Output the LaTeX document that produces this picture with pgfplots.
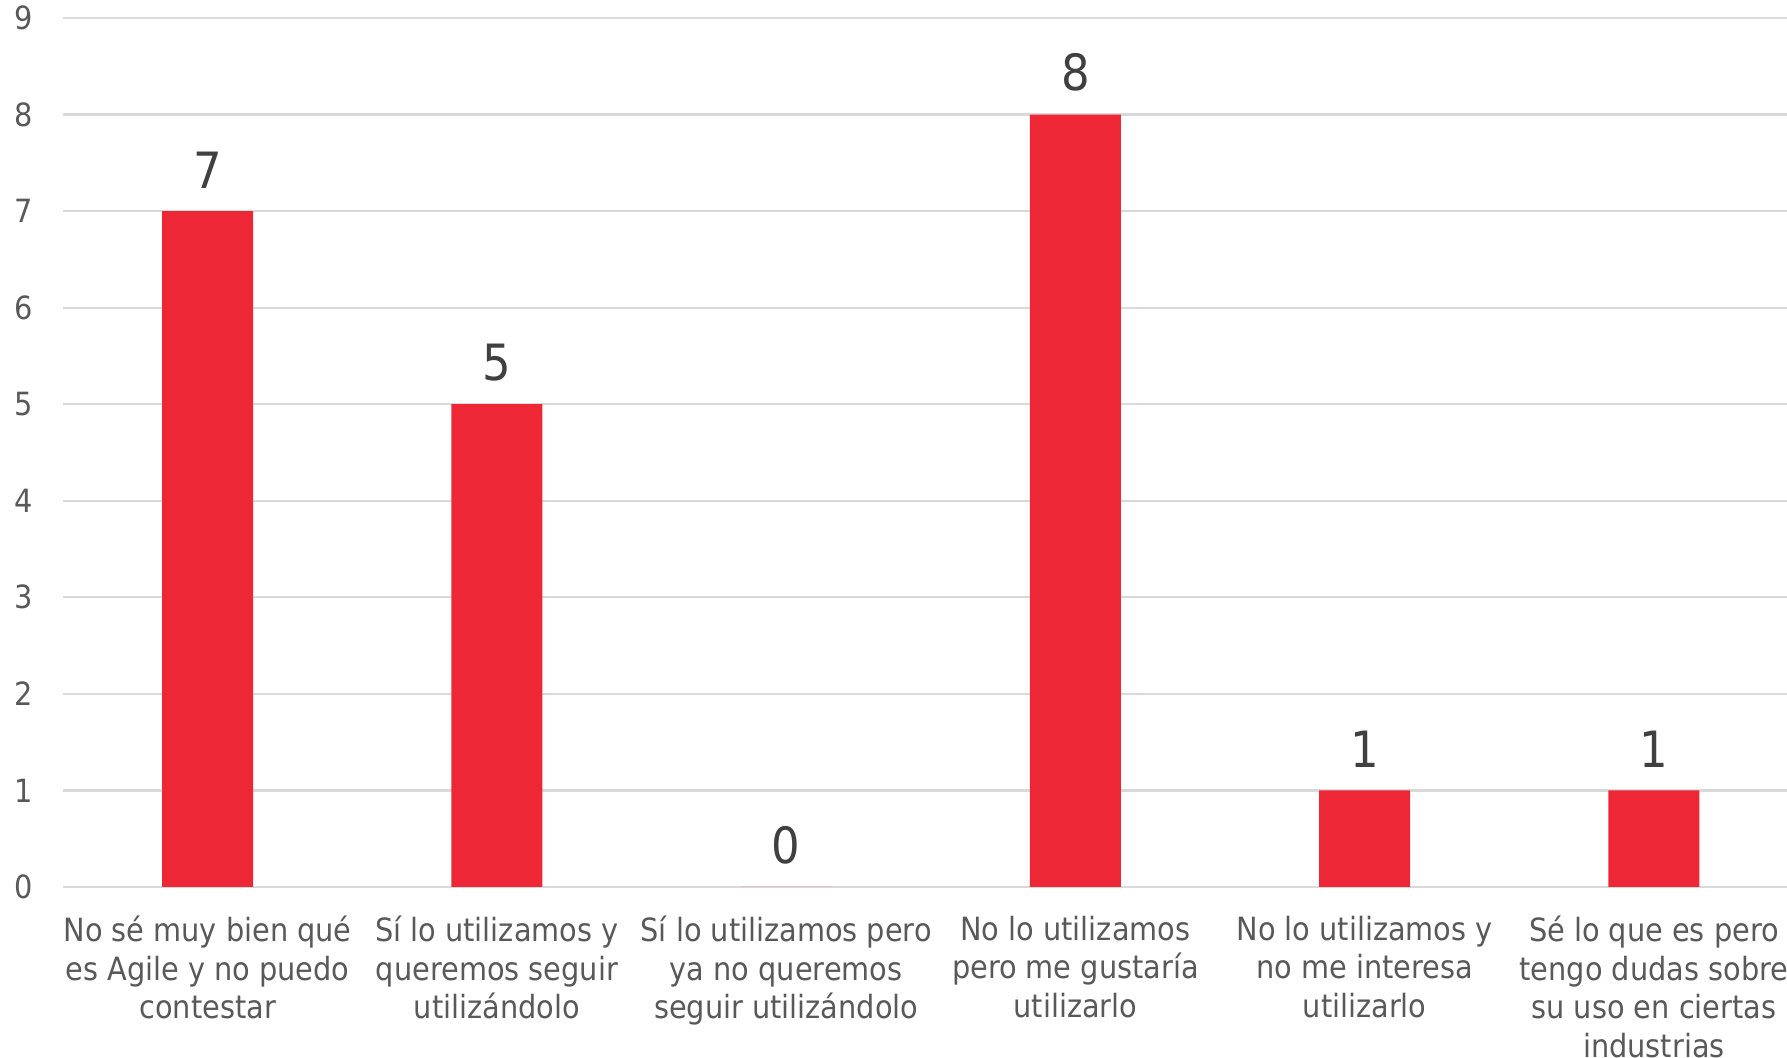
\documentclass[border=0pt]{standalone}
\usepackage{pgfplots}
\pgfplotsset{compat=1.18}
\usepackage{fontspec}
\setmainfont{DejaVu Sans Condensed}
\definecolor{barred}{HTML}{EE2737}
\definecolor{txtgrey}{HTML}{595959}
\definecolor{lblgrey}{HTML}{404040}
\definecolor{gridgrey}{HTML}{D9D9D9}
\begin{document}
\begin{tikzpicture}
\begin{axis}[
  scale only axis,
  width=689.6pt, height=347.6pt,
  xmin=-0.5, xmax=5.46,
  ymin=0, ymax=9,
  ytick={0,1,...,9},
  xtick={0,1,2,3,4,5},
  xticklabels={
    {No sé muy bien qué\\es Agile y no puedo\\contestar},
    {Sí lo utilizamos y\\queremos seguir\\utilizándolo},
    {Sí lo utilizamos pero\\ya no queremos\\seguir utilizándolo},
    {No lo utilizamos\\pero me gustaría\\utilizarlo},
    {No lo utilizamos y\\no me interesa\\utilizarlo},
    {Sé lo que es pero\\tengo dudas sobre\\su uso en ciertas\\industrias}},
  xticklabel style={align=center, font=\fontsize{12.8pt}{15.5pt}\selectfont, text=txtgrey, anchor=north, yshift=-8pt},
  yticklabel style={font=\fontsize{12.8pt}{15.5pt}\selectfont, text=txtgrey, anchor=east, xshift=-8.6pt},
  /pgf/number format/assume math mode=true,
  major tick length=0pt,
  axis line style={draw=none},
  ymajorgrids,
  grid style={gridgrey, line width=0.9pt},
  clip=false,
  nodes near coords,
  every node near coord/.append style={font=\fontsize{20pt}{24pt}\selectfont, text=lblgrey, anchor=south, yshift=5.6pt},
]
\addplot[ybar, bar width=36.4pt, fill=barred, draw=none] coordinates {
  (0,7) (1,5) (2,0) (3,8) (4,1) (5,1)
};
\end{axis}
\pgfresetboundingbox
\path ([shift={(-25.2pt,-68.4pt)}]current axis.south west) rectangle ([shift={(0pt,7.2pt)}]current axis.north east);
\end{tikzpicture}
\end{document}
